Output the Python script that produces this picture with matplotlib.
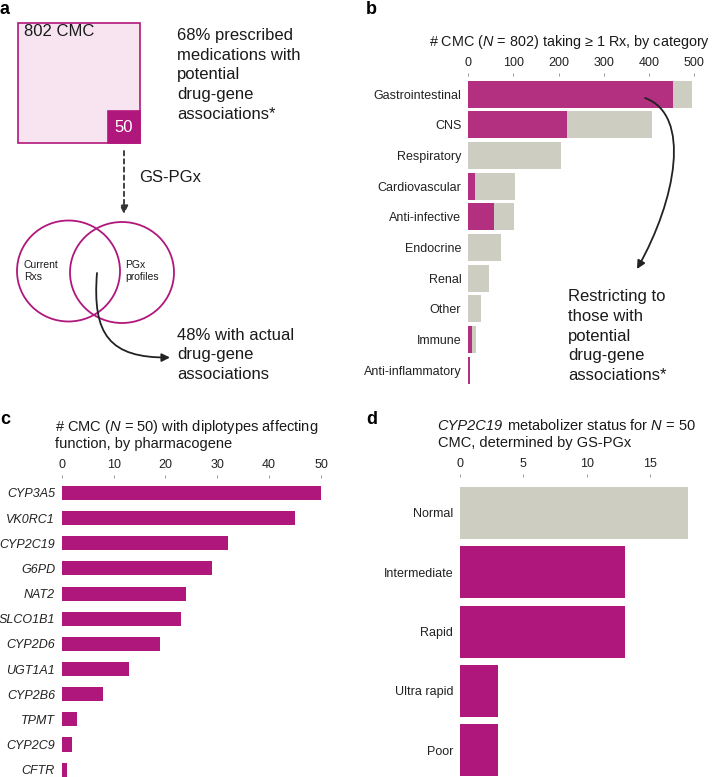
import matplotlib
matplotlib.use("Agg")
import matplotlib.pyplot as plt
from matplotlib.patches import Rectangle, Ellipse, FancyArrowPatch
from matplotlib.path import Path

plt.rcParams['font.family'] = ['Liberation Sans', 'DejaVu Sans']
plt.rcParams['mathtext.fontset'] = 'custom'
plt.rcParams['mathtext.rm'] = 'Liberation Sans'
plt.rcParams['mathtext.it'] = 'Liberation Sans:italic'
plt.rcParams['mathtext.bf'] = 'Liberation Sans:bold'

# ---------------- data ----------------
b_categories = ["Gastrointestinal", "CNS", "Respiratory", "Cardiovascular", "Anti-infective",
                "Endocrine", "Renal", "Other", "Immune", "Anti-inflammatory"]
b_total = [495, 406, 206, 103, 101, 73, 46, 29, 18, 4]
b_pgx = [452, 218, 0, 15, 57, 0, 0, 0, 8, 4]

c_genes = ["CYP3A5", "VK0RC1", "CYP2C19", "G6PD", "NAT2", "SLCO1B1", "CYP2D6",
           "UGT1A1", "CYP2B6", "TPMT", "CYP2C9", "CFTR"]
c_counts = [50, 45, 32, 29, 24, 23, 19, 13, 8, 3, 2, 1]

d_status = ["Normal", "Intermediate", "Rapid", "Ultra rapid", "Poor"]
d_counts = [18, 13, 13, 3, 3]
d_highlight = [False, True, True, True, True]

b_ticks = [0, 100, 200, 300, 400, 500]
c_ticks = [0, 10, 20, 30, 40, 50]
d_ticks = [0, 5, 10, 15]

MAG = '#b0177c'
MAG_B = '#b2307f'
GRAY = '#cdcdc1'
PINK = '#f8e4f1'

W, H = 713, 777
fig = plt.figure(figsize=(W / 100, H / 100), dpi=100)


def rect(l, t, r, b):
    return [l / W, 1 - b / H, (r - l) / W, (b - t) / H]


def style(ax, fs):
    for s in ax.spines.values():
        s.set_visible(False)
    ax.xaxis.tick_top()
    ax.tick_params(axis='x', direction='out', length=2.5, width=0.6, color='#888888',
                   pad=2.5, labelsize=fs, labelcolor='#222222')
    ax.tick_params(axis='y', length=0, pad=4.8, labelsize=fs, labelcolor='#222222')
    ax.set_facecolor('none')


# ---------------- panel b ----------------
axb = fig.add_axes(rect(468, 75.6, 703.4, 388.7))
yb = list(range(len(b_categories)))
axb.barh(yb, b_total, height=0.88, color=GRAY, linewidth=0)
axb.barh(yb, b_pgx, height=0.88, color=MAG_B, linewidth=0)
axb.set_yticks(yb)
axb.set_yticklabels(b_categories)
axb.set_xticks(b_ticks)
axb.set_xlim(0, 520)
axb.set_ylim(len(b_categories) - 1 + 0.6, -0.6)
style(axb, 9)

# ---------------- panel c ----------------
axc = fig.add_axes(rect(61.7, 477.9, 334, 784.7))
yc = list(range(len(c_genes)))
axc.barh(yc, c_counts, height=0.56, color=MAG, linewidth=0)
axc.set_yticks(yc)
axc.set_yticklabels(c_genes, fontstyle='italic')
axc.set_xticks(c_ticks)
axc.set_xlim(0, 52.5)
axc.set_ylim(len(c_genes) - 1 + 0.6, -0.6)
style(axc, 9)

# ---------------- panel d ----------------
axd = fig.add_axes(rect(460, 477.4, 699.8, 785.8))
yd = list(range(len(d_status)))
axd.barh(yd, d_counts, height=0.88,
         color=[MAG if h else GRAY for h in d_highlight], linewidth=0)
axd.set_yticks(yd)
axd.set_yticklabels(d_status)
axd.set_xticks(d_ticks)
axd.set_xlim(0, 18.9)
axd.set_ylim(len(d_status) - 1 + 0.6, -0.6)
style(axd, 9)

# ---------------- overlay (panel a, annotations) ----------------
ov = fig.add_axes([0, 0, 1, 1])
ov.set_xlim(0, W)
ov.set_ylim(H, 0)
ov.axis('off')
ov.set_zorder(5)

TXT = '#1a1a1a'
LS = 1.38
# panel labels
for lab, x, y in [('a', 0, 9), ('b', 366, 9), ('c', 0, 419), ('d', 366, 419)]:
    ov.text(x, y, lab, fontsize=13, fontweight='bold', ha='left', va='center', color='black')

# squares
ov.add_patch(Rectangle((18, 22.5), 122, 120.5, facecolor=PINK, edgecolor=MAG, linewidth=1.2))
ov.add_patch(Rectangle((108, 111), 32, 32, facecolor=MAG, edgecolor=MAG, linewidth=1.2))
ov.text(24, 32, "802 CMC", fontsize=12, ha='left', va='center', color=TXT)
ov.text(124, 127.5, "50", fontsize=12, ha='center', va='center', color='white')
ov.text(177, 75, "68% prescribed\nmedications with\npotential\ndrug-gene\nassociations*",
        fontsize=12, ha='left', va='center', color=TXT, linespacing=LS)

# dashed arrow
ov.annotate("", xy=(124, 214), xytext=(124, 151),
            arrowprops=dict(arrowstyle='-|>', linestyle=(0, (2.5, 2)), color='#333333',
                            lw=1.3, mutation_scale=12, shrinkA=0, shrinkB=0))
ov.text(139, 177, "GS-PGx", fontsize=12, ha='left', va='center', color=TXT)

# venn circles
ov.add_patch(Ellipse((68.5, 271), 103, 101, facecolor='none', edgecolor=MAG, linewidth=1.3))
ov.add_patch(Ellipse((122, 272.5), 104, 101, facecolor='none', edgecolor=MAG, linewidth=1.3))
ov.text(24, 271, "Current\nRxs", fontsize=7.5, ha='left', va='center', color=TXT, linespacing=1.3)
ov.text(125, 271, "PGx\nprofiles", fontsize=7.5, ha='left', va='center', color=TXT, linespacing=1.3)

# curved arrow a
pa = Path([(97, 273), (92, 335), (110, 358), (170, 357.5)],
          [Path.MOVETO, Path.CURVE4, Path.CURVE4, Path.CURVE4])
ov.add_patch(FancyArrowPatch(path=pa, arrowstyle='-|>', color='#222222', lw=1.3,
                             mutation_scale=12))
ov.text(177, 355, "48% with actual\ndrug-gene\nassociations", fontsize=12, ha='left',
        va='center', color=TXT, linespacing=LS)

# panel b title and annotation
ov.text(429, 42, r"# CMC ($N$ = 802) taking ≥ 1 Rx, by category", fontsize=10.4,
        ha='left', va='center', color=TXT)
pb = Path([(645, 98), (692, 115), (676, 200), (637, 269)],
          [Path.MOVETO, Path.CURVE4, Path.CURVE4, Path.CURVE4])
ov.add_patch(FancyArrowPatch(path=pb, arrowstyle='-|>', color='#222222', lw=1.3,
                             mutation_scale=12))
ov.text(568, 336, "Restricting to\nthose with\npotential\ndrug-gene\nassociations*",
        fontsize=12, ha='left', va='center', color=TXT, linespacing=LS)

# panel c, d titles
ov.text(55, 434.5, "# CMC ($N$ = 50) with diplotypes affecting\nfunction, by pharmacogene",
        fontsize=10.5, ha='left', va='center', color=TXT, linespacing=1.15)
t1 = ov.text(437.5, 426, "CYP2C19", fontsize=10.5, fontstyle='italic', ha='left',
             va='center', color=TXT)
ov.annotate("metabolizer status for $N$ = 50", xy=(1, 0.5), xycoords=t1,
            xytext=(3, 0), textcoords='offset points',
            fontsize=10.5, ha='left', va='center', color=TXT)
ov.text(437.5, 443, "CMC, determined by GS-PGx", fontsize=10.5, ha='left', va='center',
        color=TXT)

fig.savefig("out.png", dpi=100)
